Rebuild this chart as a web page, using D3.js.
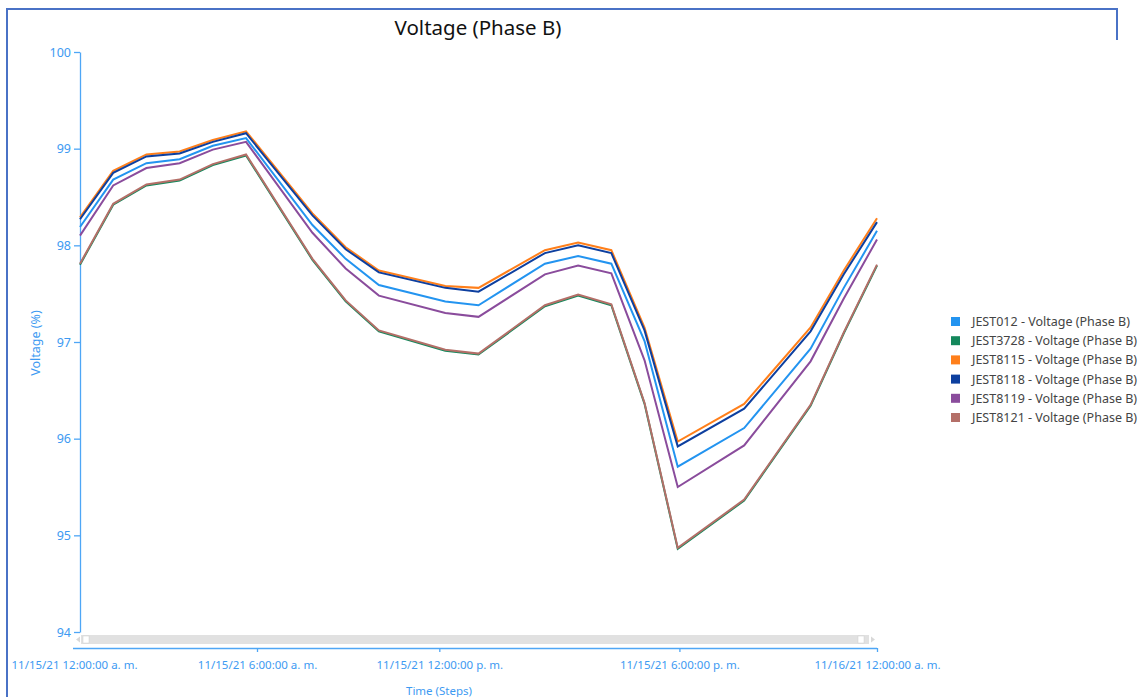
<!DOCTYPE html>
<html>
<head>
<meta charset="utf-8">
<script src="https://cdn.jsdelivr.net/npm/d3@7"></script>
<style>
  html, body { margin: 0; padding: 0; background: #fff; }
  svg { display: block; font-family: "Noto Sans", "Open Sans", sans-serif; }
</style>
</head>
<body>
<svg id="chart" width="1141" height="697"></svg>
<script>
// ---- data ----
const steps = [0, 1, 2, 3, 4, 5, 7, 8, 9, 11, 12, 14, 15, 16, 17, 18, 20, 22, 23, 24];
const seriesNames = [
  "JEST012 - Voltage (Phase B)",
  "JEST3728 - Voltage (Phase B)",
  "JEST8115 - Voltage (Phase B)",
  "JEST8118 - Voltage (Phase B)",
  "JEST8119 - Voltage (Phase B)",
  "JEST8121 - Voltage (Phase B)"
];
const jest012  = [98.19, 98.68, 98.85, 98.89, 99.03, 99.11, 98.21, 97.86, 97.59, 97.42, 97.38, 97.81, 97.89, 97.81, 97.01, 95.71, 96.11, 96.93, 97.56, 98.15];
const jest3728 = [97.80, 98.42, 98.62, 98.67, 98.83, 98.93, 97.85, 97.42, 97.11, 96.91, 96.87, 97.37, 97.48, 97.38, 96.36, 94.86, 95.36, 96.34, 97.09, 97.79];
const jest8115 = [98.29, 98.77, 98.94, 98.97, 99.09, 99.18, 98.33, 97.98, 97.74, 97.58, 97.56, 97.95, 98.03, 97.95, 97.15, 95.97, 96.36, 97.15, 97.74, 98.28];
const jest8118 = [98.27, 98.75, 98.92, 98.95, 99.07, 99.16, 98.31, 97.96, 97.72, 97.56, 97.52, 97.92, 98.00, 97.92, 97.12, 95.92, 96.31, 97.11, 97.70, 98.24];
const jest8119 = [98.10, 98.62, 98.80, 98.85, 98.99, 99.07, 98.13, 97.76, 97.48, 97.30, 97.26, 97.70, 97.79, 97.71, 96.81, 95.50, 95.93, 96.80, 97.45, 98.06];
const jest8121 = [97.81, 98.43, 98.63, 98.68, 98.84, 98.94, 97.86, 97.43, 97.12, 96.92, 96.88, 97.38, 97.49, 97.39, 96.37, 94.87, 95.37, 96.35, 97.10, 97.80];
const seriesValues = [jest012, jest3728, jest8115, jest8118, jest8119, jest8121];
const seriesColors = ["#2394f0", "#14885c", "#ff7f1a", "#0d3f9f", "#8a4c9c", "#b46f68"];
const xTickSteps  = [0, 5.33, 10.82, 18.05, 24];
const xTickLabels = ["11/15/21 12:00:00 a. m.", "11/15/21 6:00:00 a. m.", "11/15/21 12:00:00 p. m.", "11/15/21 6:00:00 p. m.", "11/16/21 12:00:00 a. m."];
const yTicks = [94, 95, 96, 97, 98, 99, 100];

// ---- layout ----
const svg = d3.select("#chart");
const axisColor = "#3d9af2";
const axisLine = "#4ea6f6";
const x = d3.scaleLinear().domain([0, 24]).range([80, 877]);
const y = d3.scaleLinear().domain([94, 100]).range([632, 52]);

// frame
svg.append("path")
  .attr("d", "M1117,40 V9 H7 V697")
  .attr("fill", "none").attr("stroke", "#4a72c6").attr("stroke-width", 2);

// title
svg.append("text").attr("x", 478).attr("y", 35).attr("text-anchor", "middle")
  .attr("font-size", 20.5).attr("fill", "#111").text("Voltage (Phase B)");

// y axis
const yAxis = d3.axisLeft(y).tickValues(yTicks).tickFormat(d3.format("d")).tickSize(6).tickSizeOuter(0);
const gy = svg.append("g").attr("transform", "translate(80,0)").call(yAxis);
gy.select(".domain").attr("stroke", axisLine).attr("stroke-width", 1.3);
gy.selectAll(".tick line").attr("stroke", axisLine).attr("stroke-width", 1.3);
gy.selectAll(".tick text").attr("fill", axisColor).attr("font-size", 12.5)
  .attr("font-family", "Noto Sans, sans-serif").attr("x", -9);

svg.append("text")
  .attr("transform", "translate(40,343) rotate(-90)")
  .attr("text-anchor", "middle").attr("font-size", 12.5).attr("fill", axisColor)
  .text("Voltage (%)");

// scrollbar
const sb = svg.append("g");
sb.append("rect").attr("x", 81).attr("y", 635).attr("width", 788).attr("height", 9).attr("fill", "#e1e1e1");
sb.append("path").attr("d", "M76,639.5 L80,636.5 L80,642.5 Z").attr("fill", "#d8d8d8");
sb.append("path").attr("d", "M875,639.5 L871,636.5 L871,642.5 Z").attr("fill", "#d8d8d8");
sb.append("rect").attr("x", 83).attr("y", 636).attr("width", 6).attr("height", 7).attr("fill", "#fff").attr("stroke", "#d0d0d0").attr("stroke-width", 0.5);
sb.append("rect").attr("x", 858).attr("y", 636).attr("width", 6).attr("height", 7).attr("fill", "#fff").attr("stroke", "#d0d0d0").attr("stroke-width", 0.5);

// x axis
const xAxis = d3.axisBottom(x).tickValues(xTickSteps).tickFormat((d, i) => xTickLabels[i]).tickSize(4).tickSizeOuter(0);
const gx = svg.append("g").attr("transform", "translate(0,648)").call(xAxis);
gx.select(".domain").attr("stroke", axisLine).attr("stroke-width", 1.3).attr("d", "M73,0.5H877");
gx.selectAll(".tick line").attr("stroke", axisLine).attr("stroke-width", 1.3);
gx.selectAll(".tick").filter((d, i) => i === 0).select("line").remove();
gx.selectAll(".tick text").attr("fill", axisColor).attr("font-size", 11.5)
  .attr("font-family", "Noto Sans, sans-serif").attr("y", 13)
  .attr("dx", (d, i) => i === 0 ? -6 : 0);

svg.append("text").attr("x", 439).attr("y", 695).attr("text-anchor", "middle")
  .attr("font-size", 11.5).attr("fill", axisColor).text("Time (Steps)");

// lines
const line = d3.line().x((d, i) => x(steps[i])).y(d => y(d));
seriesValues.forEach((vals, k) => {
  svg.append("path").datum(vals)
    .attr("d", line).attr("fill", "none")
    .attr("stroke", seriesColors[k]).attr("stroke-width", 2)
    .attr("stroke-linejoin", "miter");
});

// legend
const lg = svg.append("g");
seriesNames.forEach((name, k) => {
  const yy = 321.5 + k * 19.2;
  lg.append("rect").attr("x", 951).attr("y", yy - 4.5).attr("width", 9).attr("height", 9).attr("fill", seriesColors[k]);
  lg.append("text").attr("x", 972).attr("y", yy + 4.5).attr("font-size", 12.5).attr("fill", "#444").text(name);
});
</script>
</body>
</html>
